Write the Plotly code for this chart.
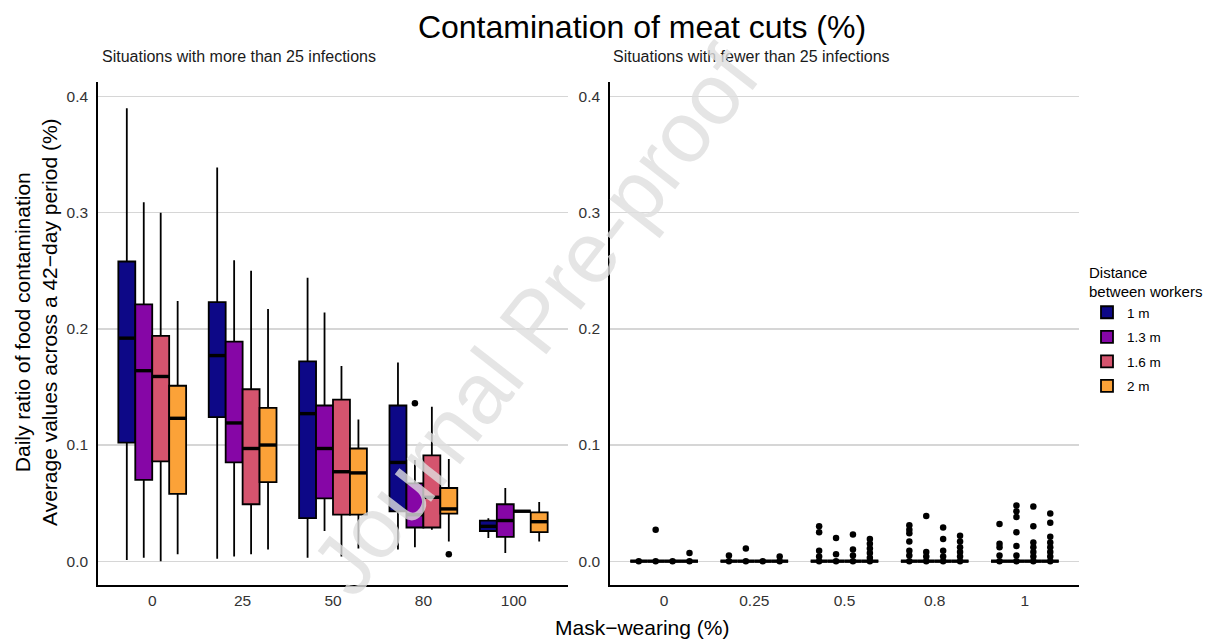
import plotly.graph_objects as go

# ---------------- data ----------------
mask_left = ["0", "25", "50", "80", "100"]
mask_right = ["0", "0.25", "0.5", "0.8", "1"]
distances = ["1 m", "1.3 m", "1.6 m", "2 m"]
colors = ["#0D0887", "#8606A6", "#D5546E", "#FBA238"]

# left panel (more than 25 infections): box statistics per distance, per mask level
low_1m = [0.001, 0.002, 0.003, 0.010, 0.020]
q1_1m = [0.102, 0.124, 0.037, 0.043, 0.026]
med_1m = [0.192, 0.177, 0.127, 0.085, 0.030]
q3_1m = [0.258, 0.223, 0.172, 0.134, 0.035]
high_1m = [0.390, 0.339, 0.244, 0.171, 0.037]

low_13m = [0.003, 0.004, 0.026, 0.012, 0.007]
q1_13m = [0.070, 0.085, 0.054, 0.029, 0.021]
med_13m = [0.164, 0.119, 0.097, 0.040, 0.035]
q3_13m = [0.221, 0.189, 0.134, 0.067, 0.049]
high_13m = [0.309, 0.259, 0.214, 0.087, 0.063]

low_16m = [0.000, 0.006, 0.004, 0.027, 0.043]
q1_16m = [0.086, 0.049, 0.040, 0.029, 0.043]
med_16m = [0.159, 0.097, 0.077, 0.055, 0.043]
q3_16m = [0.194, 0.148, 0.139, 0.091, 0.043]
high_16m = [0.300, 0.250, 0.168, 0.133, 0.043]

low_2m = [0.006, 0.010, 0.011, 0.017, 0.017]
q1_2m = [0.058, 0.068, 0.040, 0.041, 0.025]
med_2m = [0.123, 0.100, 0.076, 0.045, 0.034]
q3_2m = [0.151, 0.132, 0.097, 0.063, 0.042]
high_2m = [0.224, 0.217, 0.122, 0.088, 0.051]

out_left_1m = [[], [], [], [], []]
out_left_13m = [[], [], [], [0.136], []]
out_left_16m = [[], [], [], [], []]
out_left_2m = [[], [], [], [0.006], []]

# right panel (fewer than 25 infections): all quartiles at 0, outlying values
out_right_1m = [[0.0], [0.0, 0.005],
                [0.0, 0.004, 0.009, 0.025, 0.030],
                [0.0, 0.005, 0.009, 0.017, 0.024, 0.027, 0.031],
                [0.0, 0.005, 0.012, 0.015, 0.032]]
out_right_13m = [[0.0, 0.027], [0.0, 0.011],
                 [0.0, 0.006, 0.020],
                 [0.0, 0.004, 0.008, 0.039],
                 [0.0, 0.005, 0.013, 0.025, 0.038, 0.043, 0.048]]
out_right_16m = [[0.0], [0.0],
                 [0.0, 0.005, 0.010, 0.023],
                 [0.0, 0.004, 0.009, 0.019, 0.029],
                 [0.0, 0.004, 0.008, 0.012, 0.016, 0.030, 0.047]]
out_right_2m = [[0.0, 0.007], [0.0, 0.004],
                [0.0, 0.003, 0.007, 0.011, 0.015, 0.019],
                [0.0, 0.004, 0.008, 0.012, 0.017, 0.022],
                [0.0, 0.004, 0.008, 0.012, 0.016, 0.021, 0.033, 0.041]]

y_ticks = [0.0, 0.1, 0.2, 0.3, 0.4]

lows = [low_1m, low_13m, low_16m, low_2m]
q1s = [q1_1m, q1_13m, q1_16m, q1_2m]
meds = [med_1m, med_13m, med_16m, med_2m]
q3s = [q3_1m, q3_13m, q3_16m, q3_2m]
highs = [high_1m, high_13m, high_16m, high_2m]
outs_left = [out_left_1m, out_left_13m, out_left_16m, out_left_2m]
outs_right = [out_right_1m, out_right_13m, out_right_16m, out_right_2m]

# ---------------- figure ----------------
W, H = 1222, 641
FONT = "Liberation Sans, Arial, sans-serif"
dodge = 0.75 / len(distances)
LW = 1.8


def median_segments(xs, ys):
    sx, sy = [], []
    for x, y in zip(xs, ys):
        sx += [x - dodge / 2, x + dodge / 2, None]
        sy += [y, y, None]
    return sx, sy


fig = go.Figure()
for j, d in enumerate(distances):
    off = (j - (len(distances) - 1) / 2) * dodge
    xs_l = [i + off for i in range(len(mask_left))]
    xs_r = [i + off for i in range(len(mask_right))]
    fig.add_trace(go.Box(
        x=xs_l, q1=q1s[j], median=meds[j], q3=q3s[j],
        lowerfence=lows[j], upperfence=highs[j],
        width=dodge, whiskerwidth=0, boxpoints=False,
        fillcolor=colors[j], line=dict(color="black", width=LW),
        name=d, legendgroup=d, showlegend=True, xaxis="x", yaxis="y",
        hoverinfo="skip"))
    mx, my = median_segments(xs_l, meds[j])
    fig.add_trace(go.Scatter(x=mx, y=my, mode="lines",
                             line=dict(color="black", width=3.4),
                             showlegend=False, legendgroup=d,
                             xaxis="x", yaxis="y", hoverinfo="skip"))
    ox, oy = [], []
    for i, vals in enumerate(outs_left[j]):
        for v in vals:
            ox.append(xs_l[i]); oy.append(v)
    if ox:
        fig.add_trace(go.Scatter(x=ox, y=oy, mode="markers",
                                 marker=dict(color="black", size=6.5),
                                 showlegend=False, legendgroup=d,
                                 xaxis="x", yaxis="y", hoverinfo="skip"))
    zeros = [0.0] * len(mask_right)
    fig.add_trace(go.Box(
        x=xs_r, q1=zeros, median=zeros, q3=zeros,
        lowerfence=zeros, upperfence=zeros,
        width=dodge, whiskerwidth=0, boxpoints=False,
        fillcolor=colors[j], line=dict(color="black", width=LW),
        name=d, legendgroup=d, showlegend=False, xaxis="x2", yaxis="y2",
        hoverinfo="skip"))
    zx, zy = median_segments(xs_r, zeros)
    fig.add_trace(go.Scatter(x=zx, y=zy, mode="lines",
                             line=dict(color="black", width=3.4),
                             showlegend=False, legendgroup=d,
                             xaxis="x2", yaxis="y2", hoverinfo="skip"))
    rx, ry = [], []
    for i, vals in enumerate(outs_right[j]):
        for v in vals:
            rx.append(xs_r[i]); ry.append(v)
    fig.add_trace(go.Scatter(x=rx, y=ry, mode="markers",
                             marker=dict(color="black", size=6.5),
                             showlegend=False, legendgroup=d,
                             xaxis="x2", yaxis="y2", hoverinfo="skip"))

ydom = [1 - 585 / H, 1 - 82 / H]
yrange = [-0.0205, 0.4125]
TICKFONT = dict(size=15.5, color="#333333", family=FONT)
common_x = dict(range=[-0.6, 4.6], showgrid=False, zeroline=False,
                showline=True, linecolor="black", linewidth=LW,
                ticks="outside", ticklen=0.5, tickcolor="rgba(0,0,0,0)",
                tickfont=TICKFONT,
                tickvals=list(range(5)), automargin=False, fixedrange=True)
common_y = dict(range=yrange, domain=ydom, showgrid=True, gridcolor="#d6d6d6",
                gridwidth=1.3, zeroline=False, showline=True, linecolor="black",
                linewidth=LW, ticks="outside", ticklen=5,
                tickcolor="rgba(0,0,0,0)", tickvals=y_ticks,
                ticktext=["%.1f" % t for t in y_ticks],
                tickfont=TICKFONT,
                automargin=False, fixedrange=True)

fig.update_layout(
    width=W, height=H, autosize=False,
    margin=dict(l=0, r=0, t=0, b=0),
    paper_bgcolor="white", plot_bgcolor="white",
    font=dict(family=FONT, color="black"),
    boxmode="overlay",
    xaxis=dict(domain=[98 / W, 568 / W], anchor="y", ticktext=mask_left, **common_x),
    xaxis2=dict(domain=[610 / W, 1079 / W], anchor="y2", ticktext=mask_right, **common_x),
    yaxis=dict(anchor="x", **common_y),
    yaxis2=dict(anchor="x2", **common_y),
    title=dict(text="Contamination of meat cuts (%)", x=642 / W, y=1 - 27 / H,
               xanchor="center", yanchor="middle",
               font=dict(size=32, color="black", family=FONT)),
    legend=dict(x=1087 / W, y=1 - 258 / H, xanchor="left", yanchor="top",
                title=dict(text="Distance<br>between workers",
                           font=dict(size=15, color="black", family=FONT)),
                font=dict(size=13.5, color="black", family=FONT),
                traceorder="grouped", tracegroupgap=4,
                itemwidth=30, bgcolor="rgba(0,0,0,0)"),
    showlegend=True,
)

annotations = [
    dict(text="Situations with more than 25 infections", x=100 / W, y=1 - 56 / H,
         xref="paper", yref="paper", xanchor="left", yanchor="middle",
         showarrow=False, font=dict(size=16, color="#1a1a1a", family=FONT)),
    dict(text="Situations with fewer than 25 infections", x=611 / W, y=1 - 56 / H,
         xref="paper", yref="paper", xanchor="left", yanchor="middle",
         showarrow=False, font=dict(size=16, color="#1a1a1a", family=FONT)),
    dict(text="Mask\u2212wearing (%)", x=642 / W, y=1 - 627 / H,
         xref="paper", yref="paper", xanchor="center", yanchor="middle",
         showarrow=False, font=dict(size=21, color="black", family=FONT)),
    dict(text="Daily ratio of food contamination<br>Average values across a 42\u2212day period (%)",
         x=36 / W, y=1 - 322 / H, xref="paper", yref="paper",
         xanchor="center", yanchor="middle", textangle=-90,
         showarrow=False, font=dict(size=21, color="black", family=FONT)),
    dict(text="Journal Pre-proof", x=535 / W, y=1 - 320 / H,
         xref="paper", yref="paper", xanchor="center", yanchor="middle",
         textangle=-52, showarrow=False,
         font=dict(size=86, color="rgba(222,222,222,0.8)", family=FONT)),
]
fig.update_layout(annotations=annotations)

fig.write_html("out.html",
               config={"displayModeBar": False, "staticPlot": True},
               post_script="document.body.style.margin='0';document.body.style.padding='0';")
